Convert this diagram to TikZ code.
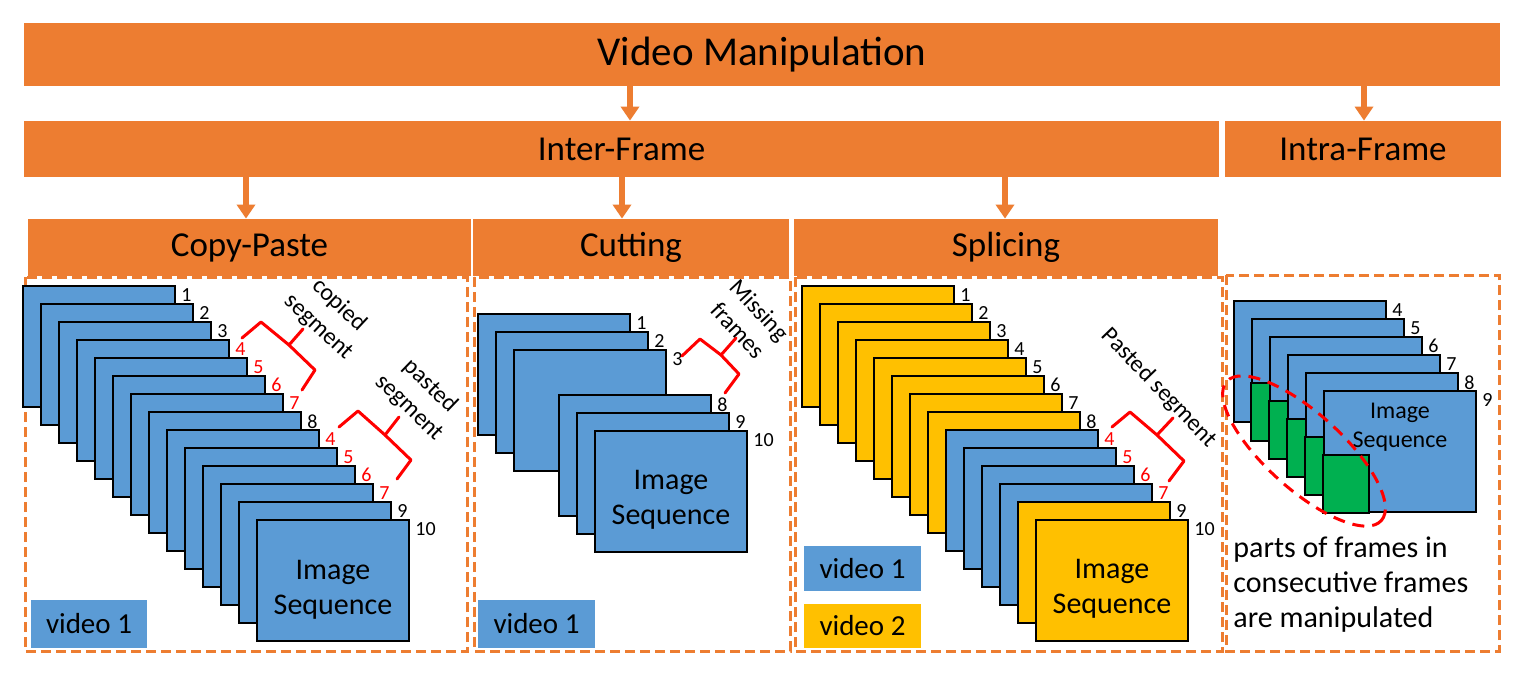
\documentclass[tikz,border=0pt]{standalone}
\usepackage{fontspec}
\setmainfont{Carlito}
\usetikzlibrary{arrows.meta,shapes.geometric,calc}
\definecolor{orng}{HTML}{ED7D31}
\definecolor{blu}{HTML}{5B9BD5}
\definecolor{ylw}{HTML}{FFC000}
\definecolor{grn}{HTML}{00B050}
\definecolor{rd}{HTML}{FF0000}
\begin{document}
\begin{tikzpicture}[x=0.5pt,y=-0.5pt,
 bar/.style={fill=orng, inner sep=0pt, text=black},
 bigfont/.style={font=\fontsize{20.5}{24}\selectfont},
 midfont/.style={font=\fontsize{17.5}{21}\selectfont},
 arr/.style={draw=orng, line width=3pt, -{Triangle[width=9pt,length=7pt]}},
 panel/.style={draw=orng, line width=1.5pt, dash pattern=on 5pt off 2.5pt},
 frm/.style={draw=black, line width=1pt, fill=blu, minimum width=76pt, minimum height=60.5pt, inner sep=0pt, anchor=north west},
 num/.style={font=\fontsize{10}{11}\selectfont, inner sep=0pt, anchor=north west},
 imgtxt/.style={font=\fontsize{15}{17.5}\selectfont, align=center, inner sep=0pt},
 vid/.style={inner sep=0pt, font=\fontsize{14.5}{16}\selectfont},
 brc/.style={draw=rd, line width=1.5pt, line join=round, line cap=round},
 note/.style={font=\fontsize{12}{15}\selectfont, align=center, inner sep=0pt},
 bodytxt/.style={font=\fontsize{15}{18}\selectfont, inner sep=0pt, anchor=base west},
]
\useasboundingbox[fill=white] (0,0) rectangle (1522,682);

% dashed panels
\draw[panel] (25,277) rectangle (467,651);
\draw[panel] (474,277) rectangle (790,651);
\draw[panel] (795,277) rectangle (1222,651);
\draw[panel] (1226,275) rectangle (1499,651);

% header bars
\node[bar, bigfont, minimum width=738pt, minimum height=31.5pt] (vm) at (762,54.5) {Video Manipulation};
\node[bar, midfont, minimum width=597.5pt, minimum height=28pt] (inter) at (621.5,149) {Inter-Frame};
\node[bar, midfont, minimum width=138pt, minimum height=28pt] (intra) at (1363,149) {Intra-Frame};
\node[bar, midfont, minimum width=221.5pt, minimum height=28.5pt] (cp) at (249.5,247.5) {Copy-Paste};
\node[bar, midfont, minimum width=158pt, minimum height=28.5pt] (cut) at (631,247.5) {Cutting};
\node[bar, midfont, minimum width=212pt, minimum height=28.5pt] (spl) at (1006,247.5) {Splicing};

% arrows
\coordinate (xa) at (630,0);
\coordinate (xb) at (1364,0);
\coordinate (xc) at (246,0);
\coordinate (xd) at (622,0);
\coordinate (xe) at (1005,0);
\draw[arr] (xa |- vm.south) -- (xa |- inter.north);
\draw[arr] (xb |- vm.south) -- (xb |- intra.north);
\draw[arr] (xc |- inter.south) -- (xc |- cp.north);
\draw[arr] (xd |- inter.south) -- (xd |- cut.north);
\draw[arr] (xe |- inter.south) -- (xe |- spl.north);

% ---------- Copy-Paste ----------
\foreach \i/\lab/\col in {0/1/black,1/2/black,2/3/black,3/4/rd,4/5/rd,5/6/rd,6/7/rd,7/8/black,8/4/rd,9/5/rd,10/6/rd,11/7/rd,12/9/black,13/10/black} {
  \node[frm] (cp\i) at ({22+18*\i},{285+18*\i}) {};
  \node[num, text=\col] (cpl\i) at ([xshift=2.5pt,yshift=-1.5pt]cp\i.north east) {\lab};
}
\node[imgtxt] (cpt) at ([yshift=-4.5pt]cp13.center) {Image\\Sequence};
\draw[brc] (242,338) -- (261,322) -- (289,345) -- (303,329);
\draw[brc] (289,345) -- (315,370) -- (302,390);
\draw[brc] (339,427) -- (358,411) -- (385,435) -- (399,417);
\draw[brc] (385,435) -- (411,460) -- (397,479);
\node[note, rotate=-43] (cpn) at (329,316) {copied\\segment};
\node[note, rotate=-44] (psn) at (420,397) {pasted\\segment};
\node[vid, fill=blu, minimum width=58pt, minimum height=24pt] (cpv) at (89,624) {video 1};

% ---------- Cutting ----------
\foreach \n/\x/\y/\lab in {0/477/313/1,1/495/331/2,2/513/349/3,3/558/394/8,4/576/412/9,5/594/430/10} {
  \node[frm] (ct\n) at (\x,\y) {};
  \node[num] (ctl\n) at ([xshift=2.5pt,yshift=-1.5pt]ct\n.north east) {\lab};
}
\node[imgtxt] (ctt) at ([yshift=-4.25pt]ct5.center) {Image\\Sequence};
\draw[brc] (682,356) -- (700,339) -- (721,355) -- (736,338);
\draw[brc] (721,355) -- (739,374) -- (725,393);
\node[note, rotate=-47] (mfn) at (749,320) {Missing\\frames};
\node[vid, fill=blu, minimum width=58.5pt, minimum height=24pt] (ctv) at (536.5,624) {video 1};

% ---------- Splicing ----------
\foreach \i/\lab/\col/\fc in {0/1/black/ylw,1/2/black/ylw,2/3/black/ylw,3/4/black/ylw,4/5/black/ylw,5/6/black/ylw,6/7/black/ylw,7/8/black/ylw,8/4/rd/blu,9/5/rd/blu,10/6/rd/blu,11/7/rd/blu,12/9/black/ylw,13/10/black/ylw} {
  \node[frm, fill=\fc] (sp\i) at ({801+18*\i},{285+18*\i}) {};
  \node[num, text=\col] (spl\i) at ([xshift=2.5pt,yshift=-1.5pt]sp\i.north east) {\lab};
}
\node[imgtxt] (spt) at ([yshift=-4pt]sp13.center) {Image\\Sequence};
\draw[brc] (1112,427) -- (1130,412) -- (1157,435) -- (1173,418);
\draw[brc] (1157,435) -- (1184,461) -- (1169,481);
\node[note, rotate=-46] (spn) at (1159,388) {Pasted segment};
\node[vid, fill=blu, minimum width=58.5pt, minimum height=22.5pt] (spv1) at (862.5,568.5) {video 1};
\node[vid, fill=ylw, minimum width=58.5pt, minimum height=22pt] (spv2) at (862.5,626) {video 2};

% ---------- Intra-Frame ----------
\foreach \i/\lab in {0/4,1/5,2/6,3/7,4/8,5/9} {
  \node[frm] (in\i) at ({1233+18*\i},{300+18*\i}) {};
  \ifnum\i>0 \draw[line width=1pt, fill=grn] (in\i.south west) rectangle ++(46,-58); \fi
  \node[num] (inl\i) at ([xshift=2.5pt,yshift=-1.5pt]in\i.north east) {\lab};
}
\node[font=\fontsize{12}{14.5}\selectfont, align=center, inner sep=0pt] (intt) at ([yshift=12pt]in5.center) {Image\\Sequence};
\node[ellipse, draw=rd, line width=1.5pt, dash pattern=on 6pt off 4pt, minimum width=104pt, minimum height=38pt, inner sep=0pt, rotate=-42] (ell) at (1304,451) {};
\node[bodytxt] (t1) at (1233,557) {parts of frames in};
\node[bodytxt] (t2) at (1233,592) {consecutive frames};
\node[bodytxt] (t3) at (1233,627) {are manipulated};
\end{tikzpicture}
\end{document}
